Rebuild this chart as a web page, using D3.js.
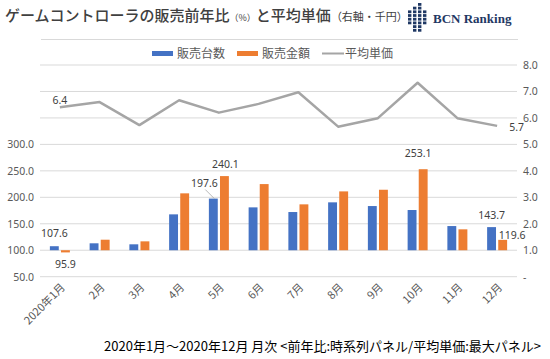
<!DOCTYPE html>
<html><head><meta charset="utf-8">
<script src="https://cdn.jsdelivr.net/npm/d3@7"></script>
<style>body{margin:0;background:#fff;} svg{display:block;font-family:"Noto Sans CJK JP","Noto Sans",sans-serif;}</style>
</head><body>
<svg id="c" width="550" height="359"></svg>
<script>
const months = ["2020年1月","2月","3月","4月","5月","6月","7月","8月","9月","10月","11月","12月"];
const units = [107.6,113.1,111.2,167.8,197.6,181.0,172.2,190.5,183.5,176.0,145.7,143.7];
const sales = [95.9,119.9,116.8,207.5,240.1,225.0,186.7,211.2,214.3,253.1,139.5,119.6];
const price = [6.4,6.6,5.73,6.67,6.2,6.53,6.97,5.67,5.99,7.33,5.99,5.7];
const leftTicks = [50,100,150,200,250,300];
const rightTicks = [0,1,2,3,4,5,6,7,8];
const seriesNames = ["販売台数","販売金額","平均単価"];
const colors = ["#4472C4","#ED7D31","#A5A5A5"];

const svg = d3.select("#c");
const x = d3.scaleBand().domain(months).range([40,517]);
const bw = x.bandwidth();
const xs = d3.scaleBand().domain(["u","s"]).range([bw/2-10,bw/2+10]).paddingInner(0.2);
const yL = d3.scaleLinear().domain([50,450]).range([276.7,65]);
const yR = d3.scaleLinear().domain([0,8]).range([276.7,65]);
const cx = i => x(months[i]) + bw/2;
const numFont = "\"Noto Sans\",sans-serif";

// gridlines
svg.append("g").selectAll("line").data(rightTicks).join("line")
  .attr("x1",40).attr("x2",517)
  .attr("y1",d=>yR(d)).attr("y2",d=>yR(d))
  .attr("stroke","#d9d9d9").attr("stroke-width",1);

// left axis
const gl = svg.append("g").attr("transform","translate(40,0)")
  .call(d3.axisLeft(yL).tickValues(leftTicks).tickFormat(d3.format(".1f")).tickSize(0).tickPadding(6));
gl.select(".domain").remove();
gl.selectAll("text").attr("fill","#595959").style("font-size","10.5px").style("font-family",numFont);

// right axis
const gr = svg.append("g").attr("transform","translate(517,0)")
  .call(d3.axisRight(yR).tickValues(rightTicks).tickFormat(d=>d===0?"-":d3.format(".1f")(d)).tickSize(0).tickPadding(6));
gr.select(".domain").remove();
gr.selectAll("text").attr("fill","#595959").style("font-size","10.5px").style("font-family",numFont);

// bars
const bars = svg.append("g");
bars.selectAll("rect.u").data(units).join("rect").attr("class","u")
  .attr("x",(d,i)=>x(months[i])+xs("u")).attr("width",xs.bandwidth())
  .attr("y",d=>Math.min(yL(d),yL(100))).attr("height",d=>Math.abs(yL(d)-yL(100)))
  .attr("fill",colors[0]);
bars.selectAll("rect.s").data(sales).join("rect").attr("class","s")
  .attr("x",(d,i)=>x(months[i])+xs("s")).attr("width",xs.bandwidth())
  .attr("y",d=>Math.min(yL(d),yL(100))).attr("height",d=>Math.abs(yL(d)-yL(100)))
  .attr("fill",colors[1]);

// line
const line = d3.line().x((d,i)=>cx(i)).y(d=>yR(d));
svg.append("path").datum(price).attr("d",line).attr("fill","none")
  .attr("stroke",colors[2]).attr("stroke-width",2.5).attr("stroke-linejoin","round");

// x labels
svg.append("g").selectAll("text").data(months).join("text")
  .attr("transform",(d,i)=>`translate(${cx(i)+6},${288}) rotate(-45)`)
  .attr("text-anchor","end").attr("fill","#595959").style("font-size","11px").text(d=>d);

// data labels
const lab = svg.append("g").style("font-size","10.5px").attr("fill","#404040").style("font-family",numFont);
const bu = i => x(months[i])+xs("u")+xs.bandwidth()/2;
const bs = i => x(months[i])+xs("s")+xs.bandwidth()/2;
const f1 = d3.format(".1f");
lab.append("text").attr("x",bu(0)).attr("y",yL(units[0])-9).attr("text-anchor","middle").text(f1(units[0]));
lab.append("text").attr("x",bs(0)).attr("y",yL(sales[0])+16).attr("text-anchor","middle").text(f1(sales[0]));
lab.append("text").attr("x",bu(4)-9).attr("y",yL(units[4])-12).attr("text-anchor","middle").text(f1(units[4]));
svg.append("line").attr("x1",bu(4)-8).attr("y1",yL(units[4])-9).attr("x2",bu(4)+1).attr("y2",yL(units[4]))
  .attr("stroke","#a6a6a6").attr("stroke-width",0.8);
lab.append("text").attr("x",bs(4)+1).attr("y",yL(sales[4])-8).attr("text-anchor","middle").text(f1(sales[4]));
lab.append("text").attr("x",bs(9)-5).attr("y",yL(sales[9])-12).attr("text-anchor","middle").text(f1(sales[9]));
lab.append("text").attr("x",bu(11)).attr("y",yL(units[11])-8).attr("text-anchor","middle").text(f1(units[11]));
lab.append("text").attr("x",bs(11)-4).attr("y",yL(sales[11])-1).attr("text-anchor","start").text(f1(sales[11]));
lab.append("text").attr("x",cx(0)).attr("y",yR(price[0])-3).attr("text-anchor","middle").text(f1(price[0]));
lab.append("text").attr("x",cx(11)+12).attr("y",yR(price[11])+5).attr("text-anchor","start").text(f1(price[11]));

// title
const t = svg.append("text").attr("x",5).attr("y",21).attr("fill","#404040").style("font-weight","500").style("font-size","15px");
t.append("tspan").text("ゲームコントローラの販売前年比");
t.append("tspan").style("font-size","9px").style("font-weight","normal").text("（%）");
t.append("tspan").text("と平均単価");
t.append("tspan").style("font-size","11px").style("font-weight","normal").text("（右軸・千円）");

// logo
const logoCols = [[2,5],[1,7],[0,7],[2,5]];
const lg = svg.append("g").attr("fill","#1F3864");
logoCols.forEach((c,ci)=>{
  for(let r=c[0];r<=c[1];r++) lg.append("rect").attr("x",408+ci*5).attr("y",3+r*3.7).attr("width",3.4).attr("height",2.8);
});
svg.append("text").attr("x",433).attr("y",23).attr("fill","#1F3864")
  .style("font-family","\"Liberation Serif\",serif").style("font-weight","bold").style("font-size","13px").text("BCN Ranking");

// separator
svg.append("line").attr("x1",41).attr("x2",518).attr("y1",39.5).attr("y2",39.5).attr("stroke","#d9d9d9");

// legend
const leg = svg.append("g").style("font-size","12px").attr("fill","#595959");
const legX = [152,237,322];
seriesNames.forEach((n,i)=>{
  if(i<2) leg.append("rect").attr("x",legX[i]).attr("y",51).attr("width",21).attr("height",5).attr("fill",colors[i]);
  else leg.append("line").attr("x1",legX[i]).attr("x2",legX[i]+22).attr("y1",53.5).attr("y2",53.5).attr("stroke",colors[i]).attr("stroke-width",2);
  leg.append("text").attr("x",legX[i]+(i<2?25:23)).attr("y",58).text(n);
});

// footer
svg.append("text").attr("x",541).attr("y",351).attr("text-anchor","end").attr("fill","#000")
  .style("font-size","13px").text("2020年1月～2020年12月 月次 <前年比:時系列パネル/平均単価:最大パネル>");
</script>
</body></html>
